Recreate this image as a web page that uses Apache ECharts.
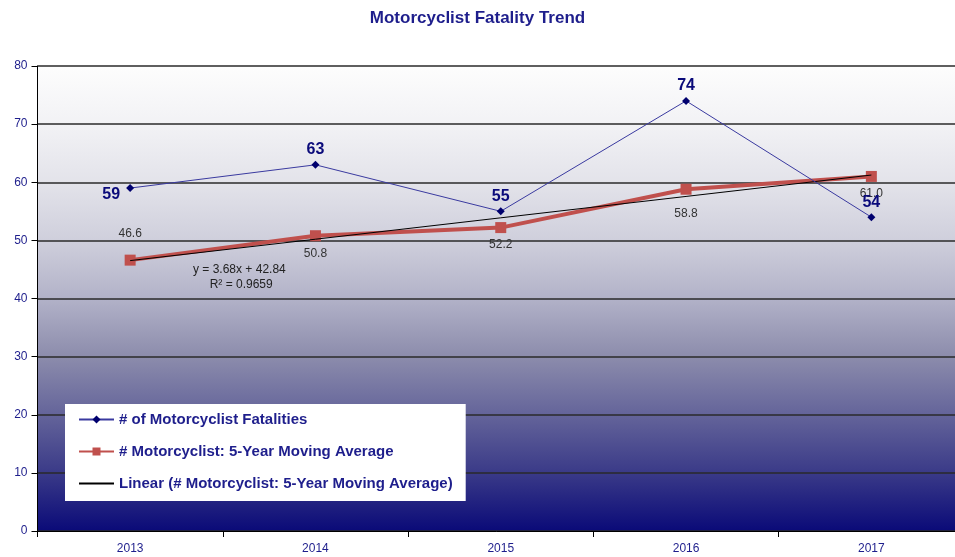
<!DOCTYPE html>
<html>
<head>
<meta charset="utf-8">
<script src="https://cdn.jsdelivr.net/npm/echarts@6/dist/echarts.min.js"></script>
<style>
  html, body { margin: 0; padding: 0; background: #fff; }
  #chart { width: 955px; height: 557px; }
</style>
</head>
<body>
<div id="chart"></div>
<script>
// chart data
var years = ['2013', '2014', '2015', '2016', '2017']
var fatalities = [59, 63, 55, 74, 54]
var movingAvg = [46.6, 50.8, 52.2, 58.8, 61.0]
// trendline values as given by y = 3.68x + 42.84
var trend = [46.52, 50.20, 53.88, 57.56, 61.24]
var yTicks = [0, 10, 20, 30, 40, 50, 60, 70, 80]

var navy = '#1e1e8c'
var chart = echarts.init(document.getElementById('chart'))

chart.setOption({
  animation: false,
  textStyle: { fontFamily: 'Liberation Sans, Arial, sans-serif' },
  title: {
    text: 'Motorcyclist Fatality Trend',
    left: 'center',
    top: 5,
    textStyle: { color: navy, fontSize: 17, fontWeight: 'bold' }
  },
  grid: {
    left: 37.5,
    top: 66,
    right: -9,
    bottom: 26,
    outerBoundsMode: 'none',
    containLabel: false,
    show: true,
    borderWidth: 0,
    backgroundColor: new echarts.graphic.LinearGradient(0, 0, 0, 1, [
      { offset: 0, color: '#fdfdfd' },
      { offset: 0.125, color: '#f2f2f5' },
      { offset: 0.25, color: '#e3e3ea' },
      { offset: 0.375, color: '#cfcfdc' },
      { offset: 0.5, color: '#b2b2c8' },
      { offset: 0.625, color: '#8c8cac' },
      { offset: 0.75, color: '#64649a' },
      { offset: 0.875, color: '#3a3a88' },
      { offset: 1, color: '#0a0a78' }
    ])
  },
  legend: {
    orient: 'vertical',
    left: 65,
    top: 404,
    backgroundColor: '#fff',
    padding: [8, 13, 10, 13],
    itemGap: 17,
    itemWidth: 35,
    itemHeight: 10,
    textStyle: { color: navy, fontSize: 15, fontWeight: 'bold' },
    data: [
      { name: '# of Motorcyclist Fatalities' },
      { name: '# Motorcyclist: 5-Year Moving Average' },
      { name: 'Linear (# Motorcyclist: 5-Year Moving Average)', itemStyle: { opacity: 0 } }
    ]
  },
  xAxis: {
    type: 'category',
    data: years,
    boundaryGap: true,
    axisLine: { lineStyle: { color: '#000', width: 1 } },
    axisTick: { show: true, length: 6, lineStyle: { color: '#000' } },
    axisLabel: { color: navy, fontSize: 12, margin: 12 }
  },
  yAxis: {
    type: 'value',
    min: 0,
    max: 80,
    interval: 10,
    axisLine: { show: true, lineStyle: { color: '#000', width: 1 } },
    axisTick: { show: true, length: 6, lineStyle: { color: '#000' } },
    axisLabel: {
      color: navy,
      fontSize: 12,
      margin: 10,
      formatter: function (v) { return yTicks.indexOf(v) >= 0 ? String(v) : '' }
    },
    splitLine: { show: true, lineStyle: { color: '#2a2a2a', width: 1.5 } }
  },
  graphic: [{
    type: 'text',
    left: 193,
    top: 262,
    style: {
      text: 'y = 3.68x + 42.84\n     R\u00b2 = 0.9659',
      fill: '#222',
      fontSize: 12,
      lineHeight: 15,
      fontFamily: 'Liberation Sans, Arial, sans-serif'
    },
    z: 100
  }],
  series: [
    {
      name: 'Linear (# Motorcyclist: 5-Year Moving Average)',
      type: 'line',
      data: trend,
      symbol: 'none',
      lineStyle: { color: '#000', width: 1 },
      itemStyle: { color: '#000' },
      z: 4
    },
    {
      name: '# Motorcyclist: 5-Year Moving Average',
      type: 'line',
      data: movingAvg.map(function (v, i) {
        return {
          value: v,
          label: i === 0
            ? { position: 'top', distance: 15 }
            : { position: 'bottom', distance: i === 3 ? 13 : 6 }
        }
      }),
      symbol: 'rect',
      symbolSize: 11,
      lineStyle: { color: '#c0504d', width: 4 },
      itemStyle: { color: '#c0504d' },
      label: {
        show: true,
        color: '#333',
        fontSize: 12,
        formatter: function (p) { return p.value.toFixed(1) }
      },
      z: 3
    },
    {
      name: '# of Motorcyclist Fatalities',
      type: 'line',
      data: fatalities.map(function (v, i) {
        return {
          value: v,
          label: i === 0
            ? { position: 'left', distance: 6, offset: [0, 7] }
            : { position: 'top', distance: 3 }
        }
      }),
      symbol: 'diamond',
      symbolSize: 8,
      lineStyle: { color: '#3a3aa0', width: 1 },
      itemStyle: { color: '#00006e' },
      label: {
        show: true,
        color: '#0a0a7a',
        fontSize: 16,
        fontWeight: 'bold'
      },
      z: 5
    }
  ]
})
</script>
</body>
</html>
